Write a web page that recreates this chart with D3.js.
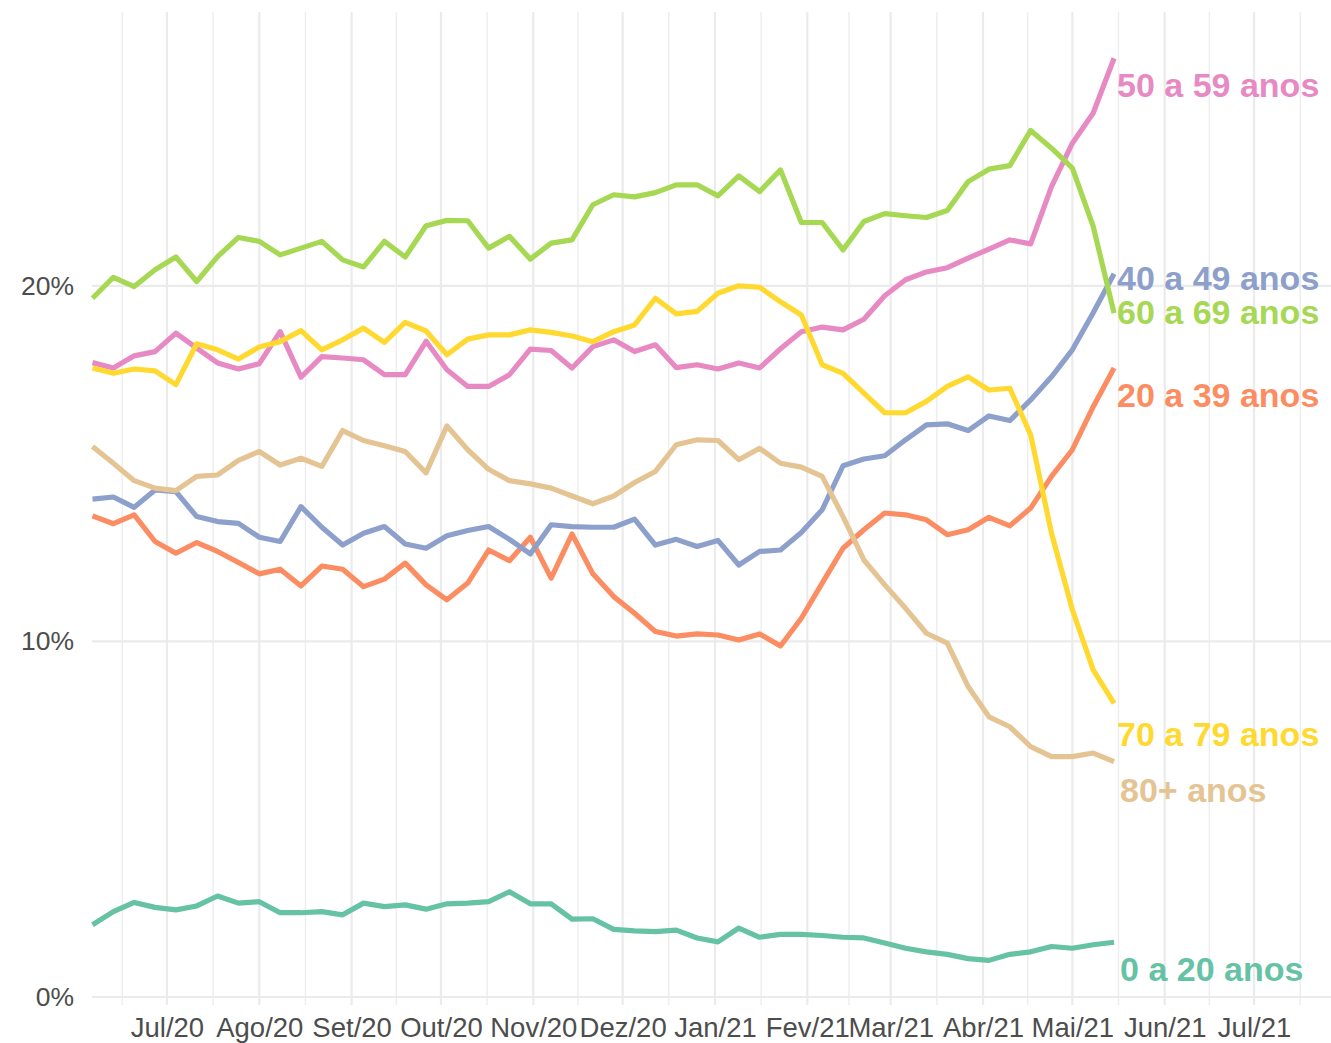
<!DOCTYPE html>
<html>
<head>
<meta charset="utf-8">
<script src="https://cdn.jsdelivr.net/npm/d3@7"></script>
<style>
  body { margin: 0; background: #fff; }
  svg text { font-family: "Liberation Sans", Arial, sans-serif; }
</style>
</head>
<body>
<svg id="chart" width="1331" height="1043"></svg>
<script>
// weekly dates (end of epi week)
const weeks = [
  "2020-06-06", "2020-06-13", "2020-06-20", "2020-06-27",
  "2020-07-04", "2020-07-11", "2020-07-18", "2020-07-25",
  "2020-08-01", "2020-08-08", "2020-08-15", "2020-08-22", "2020-08-29",
  "2020-09-05", "2020-09-12", "2020-09-19", "2020-09-26",
  "2020-10-03", "2020-10-10", "2020-10-17", "2020-10-24", "2020-10-31",
  "2020-11-07", "2020-11-14", "2020-11-21", "2020-11-28",
  "2020-12-05", "2020-12-12", "2020-12-19", "2020-12-26",
  "2021-01-02", "2021-01-09", "2021-01-16", "2021-01-23", "2021-01-30",
  "2021-02-06", "2021-02-13", "2021-02-20", "2021-02-27",
  "2021-03-06", "2021-03-13", "2021-03-20", "2021-03-27",
  "2021-04-03", "2021-04-10", "2021-04-17", "2021-04-24",
  "2021-05-01", "2021-05-08", "2021-05-15"
]

const groups = ["0 a 20 anos", "20 a 39 anos", "40 a 49 anos", "50 a 59 anos", "60 a 69 anos", "70 a 79 anos", "80+ anos"]
const colors = ["#66C2A5", "#FC8D62", "#8DA0CB", "#E78AC3", "#A6D854", "#FFD92F", "#E5C494"]

// share of cases (%) per week
const age0_20 = [2.03, 2.40, 2.66, 2.52, 2.45, 2.56, 2.84, 2.64, 2.68, 2.37,
  2.37, 2.40, 2.31, 2.64, 2.54, 2.59, 2.47, 2.62, 2.64, 2.68,
  2.96, 2.62, 2.62, 2.19, 2.20, 1.90, 1.86, 1.84, 1.88, 1.66,
  1.55, 1.94, 1.68, 1.76, 1.76, 1.73, 1.68, 1.66, 1.52, 1.37,
  1.27, 1.20, 1.08, 1.03, 1.20, 1.27, 1.42, 1.37, 1.47, 1.54]
const age20_39 = [13.53, 13.31, 13.56, 12.81, 12.48, 12.78, 12.53, 12.22, 11.90, 12.03,
  11.56, 12.12, 12.03, 11.54, 11.75, 12.20, 11.59, 11.17, 11.64, 12.57,
  12.27, 12.93, 11.78, 13.02, 11.90, 11.26, 10.79, 10.28, 10.15, 10.21,
  10.18, 10.04, 10.21, 9.87, 10.65, 11.64, 12.62, 13.14, 13.61, 13.56,
  13.42, 13.00, 13.14, 13.49, 13.25, 13.75, 14.64, 15.39, 16.60, 17.69]
const age40_49 = [14.00, 14.06, 13.77, 14.26, 14.21, 13.51, 13.37, 13.32, 12.93, 12.81,
  13.79, 13.21, 12.71, 13.04, 13.23, 12.74, 12.62, 12.97, 13.12, 13.23,
  12.87, 12.46, 13.28, 13.23, 13.21, 13.21, 13.44, 12.71, 12.87, 12.67,
  12.84, 12.15, 12.53, 12.57, 13.06, 13.70, 14.94, 15.13, 15.22, 15.67,
  16.09, 16.12, 15.93, 16.34, 16.21, 16.79, 17.44, 18.20, 19.24, 20.34]
const age50_59 = [17.84, 17.69, 18.03, 18.15, 18.67, 18.25, 17.83, 17.66, 17.81, 18.71,
  17.43, 18.01, 17.97, 17.92, 17.50, 17.50, 18.44, 17.64, 17.17, 17.17,
  17.50, 18.22, 18.18, 17.69, 18.29, 18.48, 18.15, 18.34, 17.70, 17.78,
  17.66, 17.83, 17.69, 18.23, 18.71, 18.84, 18.76, 19.06, 19.72, 20.17,
  20.39, 20.51, 20.78, 21.03, 21.29, 21.18, 22.79, 24.01, 24.86, 26.40]
const age60_69 = [19.65, 20.24, 19.98, 20.45, 20.81, 20.12, 20.82, 21.36, 21.25, 20.87,
  21.06, 21.25, 20.73, 20.53, 21.25, 20.81, 21.69, 21.84, 21.83, 21.06,
  21.39, 20.75, 21.20, 21.29, 22.28, 22.56, 22.50, 22.62, 22.84, 22.84,
  22.53, 23.09, 22.65, 23.26, 21.78, 21.78, 21.01, 21.81, 22.03, 21.97,
  21.92, 22.12, 22.93, 23.28, 23.38, 24.37, 23.87, 23.31, 21.67, 19.23]
const age70_79 = [17.69, 17.54, 17.66, 17.61, 17.22, 18.37, 18.20, 17.94, 18.28, 18.43,
  18.74, 18.20, 18.48, 18.81, 18.41, 18.97, 18.73, 18.06, 18.50, 18.62,
  18.62, 18.76, 18.69, 18.59, 18.43, 18.71, 18.90, 19.65, 19.21, 19.28,
  19.79, 20.00, 19.96, 19.55, 19.18, 17.78, 17.54, 16.98, 16.43, 16.43,
  16.75, 17.17, 17.44, 17.07, 17.12, 15.81, 13.04, 10.89, 9.20, 8.26]
const age80 = [15.48, 15.01, 14.52, 14.31, 14.24, 14.64, 14.68, 15.09, 15.34, 14.96,
  15.15, 14.92, 15.93, 15.65, 15.50, 15.34, 14.74, 16.06, 15.39, 14.84,
  14.52, 14.43, 14.31, 14.09, 13.87, 14.09, 14.47, 14.78, 15.53, 15.67,
  15.65, 15.11, 15.43, 15.01, 14.90, 14.64, 13.51, 12.29, 11.59, 10.93,
  10.23, 9.95, 8.73, 7.88, 7.60, 7.04, 6.76, 6.76, 6.86, 6.62]

const monthNames = ["Jan", "Fev", "Mar", "Abr", "Mai", "Jun", "Jul", "Ago", "Set", "Out", "Nov", "Dez"]
const yTicks = [0, 10, 20]

const series = [age0_20, age20_39, age40_49, age50_59, age60_69, age70_79, age80]

const svg = d3.select("#chart")
const width = 1331
const height = 1043
const panelTop = 12
const panelBottom = 1005
const panelLeft = 92

const parse = d3.timeParse("%Y-%m-%d")
const dates = weeks.map(parse)

var x = d3.scaleTime()
    .domain([parse("2020-06-06"), parse("2021-07-26")])
    .range([92.5, 1328.5])

var y = d3.scaleLinear()
    .domain([0, 27.7])
    .range([997, panelTop])

// grid
var majors = d3.timeMonth.range(parse("2020-07-01"), parse("2021-07-02"))
var minors = d3.timeMonth.range(parse("2020-06-01"), parse("2021-08-01"))
    .map(m => new Date((+m + +d3.timeMonth.offset(m, 1)) / 2))
    .filter(d => x(d) > panelLeft && x(d) < width)

var grid = svg.append("g")
grid.selectAll(".minor")
    .data(minors)
    .enter()
    .append("line")
    .attr("x1", d => x(d)).attr("x2", d => x(d))
    .attr("y1", panelTop).attr("y2", panelBottom)
    .attr("stroke", "#EDEDED")
    .attr("stroke-width", 1.4)
grid.selectAll(".major")
    .data(majors)
    .enter()
    .append("line")
    .attr("x1", d => x(d)).attr("x2", d => x(d))
    .attr("y1", panelTop).attr("y2", panelBottom)
    .attr("stroke", "#EBEBEB")
    .attr("stroke-width", 2.2)
grid.selectAll(".hline")
    .data(yTicks)
    .enter()
    .append("line")
    .attr("x1", panelLeft).attr("x2", width)
    .attr("y1", d => y(d)).attr("y2", d => y(d))
    .attr("stroke", "#EBEBEB")
    .attr("stroke-width", 2.2)

// axes
var xAxis = d3.axisBottom(x)
    .tickValues(majors)
    .tickSize(0)
    .tickPadding(12)
    .tickFormat(d => monthNames[d.getMonth()] + "/" + d3.timeFormat("%y")(d))

var yAxis = d3.axisLeft(y)
    .tickValues(yTicks)
    .tickSize(0)
    .tickPadding(18)
    .tickFormat(d => d + "%")

svg.append("g")
    .attr("transform", "translate(0," + panelBottom + ")")
    .call(xAxis)
    .call(g => g.select(".domain").remove())
    .selectAll("text")
    .style("font-size", "27.5px")
    .attr("fill", "#4D4D4D")

svg.append("g")
    .attr("transform", "translate(" + panelLeft + ",0)")
    .call(yAxis)
    .call(g => g.select(".domain").remove())
    .selectAll("text")
    .style("font-size", "26.5px")
    .attr("fill", "#4D4D4D")

// lines
var line = d3.line()
    .x((d, i) => x(dates[i]))
    .y(d => y(d))

svg.append("g")
    .selectAll("path")
    .data(series)
    .enter()
    .append("path")
    .attr("d", d => line(d))
    .attr("fill", "none")
    .attr("stroke", (d, i) => colors[i])
    .attr("stroke-width", 5.2)
    .attr("stroke-linejoin", "round")

// end labels, nudged so they don't collide
var nudge = [27, 27, 4, 27, -1, 31, 29]
var shift = [6, 3, 3, 3, 3, 3, 6]
var last = dates[dates.length - 1]

svg.append("g")
    .selectAll("text")
    .data(series)
    .enter()
    .append("text")
    .attr("x", (d, i) => x(last) + shift[i])
    .attr("y", (d, i) => y(d[d.length - 1]) + nudge[i])
    .attr("dy", "0.35em")
    .style("font-size", "34px")
    .style("font-weight", "bold")
    .attr("fill", (d, i) => colors[i])
    .text((d, i) => groups[i])
</script>
</body>
</html>
